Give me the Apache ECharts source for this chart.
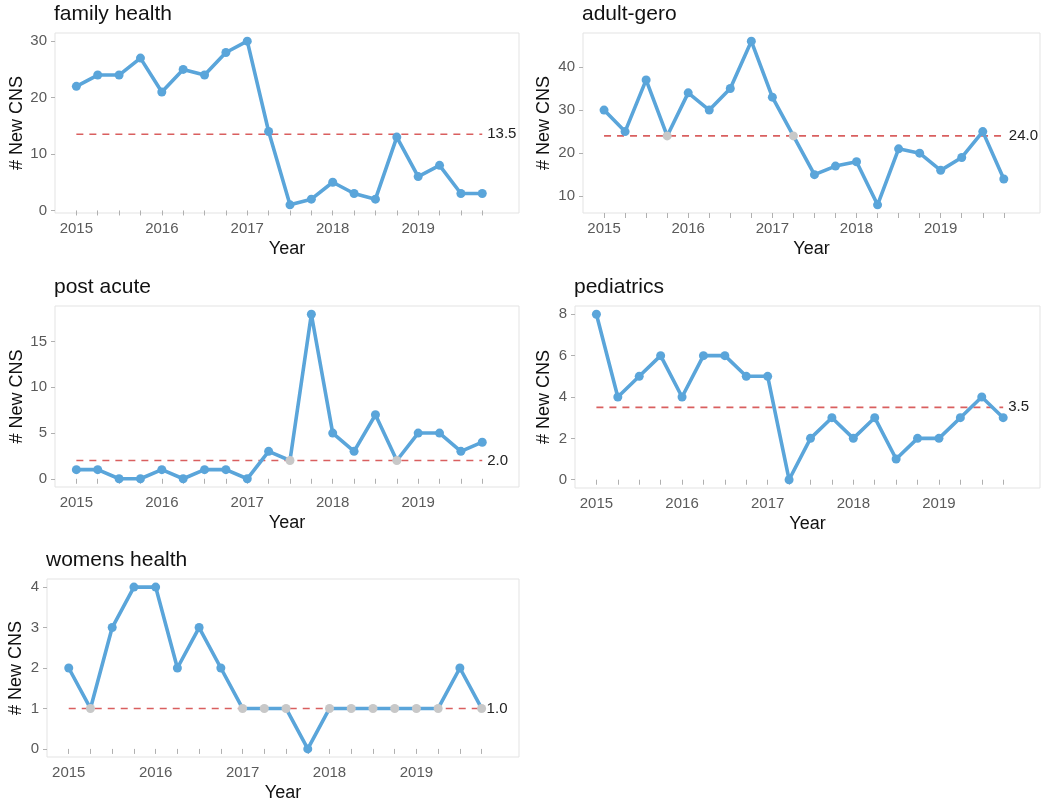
<!DOCTYPE html>
<html><head><meta charset="utf-8">
<script src="https://cdn.jsdelivr.net/npm/echarts@6/dist/echarts.min.js"></script>
<style>html,body{margin:0;padding:0;background:#fff}#c{width:1050px;height:803px}</style>
</head><body><div id="c"></div>
<script>
// ---- data ----
const quarters = [2015.00, 2015.25, 2015.50, 2015.75, 2016.00, 2016.25, 2016.50, 2016.75,
                  2017.00, 2017.25, 2017.50, 2017.75, 2018.00, 2018.25, 2018.50, 2018.75,
                  2019.00, 2019.25, 2019.50, 2019.75];
const yearTicks = [2015, 2016, 2017, 2018, 2019];
const panelTitles = ['family health', 'adult-gero', 'post acute', 'pediatrics', 'womens health'];
const familyHealth = [22, 24, 24, 27, 21, 25, 24, 28, 30, 14, 1, 2, 5, 3, 2, 13, 6, 8, 3, 3];
const adultGero    = [30, 25, 37, 24, 34, 30, 35, 46, 33, 24, 15, 17, 18, 8, 21, 20, 16, 19, 25, 14];
const postAcute    = [1, 1, 0, 0, 1, 0, 1, 1, 0, 3, 2, 18, 5, 3, 7, 2, 5, 5, 3, 4];
const pediatrics   = [8, 4, 5, 6, 4, 6, 6, 5, 5, 0, 2, 3, 2, 3, 1, 2, 2, 3, 4, 3];
const womensHealth = [2, 1, 3, 4, 4, 2, 3, 2, 1, 1, 1, 0, 1, 1, 1, 1, 1, 1, 2, 1];
const medians = [13.5, 24.0, 2.0, 3.5, 1.0];
const yTicks = [[0, 10, 20, 30], [10, 20, 30, 40], [0, 5, 10, 15], [0, 2, 4, 6, 8], [0, 1, 2, 3, 4]];
const allSeries = [familyHealth, adultGero, postAcute, pediatrics, womensHealth];

// ---- layout / style ----
const layout = [
  {left: 55,  top: 33,  width: 464, height: 180, nameGap: 29},
  {left: 583, top: 33,  width: 457, height: 180, nameGap: 30},
  {left: 55,  top: 306, width: 464, height: 181, nameGap: 29},
  {left: 575, top: 306, width: 465, height: 182, nameGap: 22},
  {left: 47,  top: 579, width: 472, height: 181, nameGap: 22}
];
const FONT = 'Liberation Sans, Arial, sans-serif';
const BLUE = '#5AA5DA', GRAY = '#C8C8C8', RED = '#D95F5F';

const grids = [], xAxes = [], yAxes = [], series = [], titles = [];
allSeries.forEach((vals, i) => {
  const L = layout[i];
  const med = medians[i];
  grids.push({left: L.left, top: L.top, width: L.width, height: L.height,
    show: true, borderColor: '#E3E3E3', borderWidth: 1, backgroundColor: '#fff', containLabel: false});
  titles.push({text: panelTitles[i], left: L.left - 1, top: L.top - 29, padding: 0,
    textStyle: {fontSize: 21, fontWeight: 'normal', color: '#111', fontFamily: FONT}});
  const lo = Math.min(...vals), hi = Math.max(...vals), r = hi - lo;
  xAxes.push({type: 'value', gridIndex: i, min: 2014.75, max: 2020.18,
    axisLine: {show: false},
    axisTick: {show: true, customValues: quarters, length: 5, lineStyle: {color: '#B0B0B0'}},
    axisLabel: {customValues: yearTicks, formatter: v => String(v), color: '#5a5a5a', fontSize: 15, margin: 8, fontFamily: FONT},
    splitLine: {show: false},
    name: 'Year', nameLocation: 'middle', nameGap: 27,
    nameTextStyle: {fontSize: 18, color: '#111', fontFamily: FONT}});
  yAxes.push({type: 'value', gridIndex: i, min: lo - 0.05 * r, max: hi + 0.05 * r,
    axisLine: {show: false},
    axisTick: {show: true, customValues: yTicks[i], length: 4, lineStyle: {color: '#B0B0B0'}},
    axisLabel: {customValues: yTicks[i], color: '#5a5a5a', fontSize: 15, margin: 8, fontFamily: FONT},
    splitLine: {show: false},
    name: '# New CNS', nameLocation: 'middle', nameGap: L.nameGap, nameRotate: 90,
    nameTextStyle: {fontSize: 18, color: '#111', fontFamily: FONT}});
  series.push({type: 'line', xAxisIndex: i, yAxisIndex: i, silent: true, z: 1,
    data: [[quarters[0], med], [quarters[quarters.length - 1], med]],
    symbol: 'none', lineStyle: {color: RED, width: 1.6, type: [7, 6]},
    endLabel: {show: true, formatter: med.toFixed(1), distance: 5, fontSize: 15, color: '#222', fontFamily: FONT}});
  series.push({type: 'line', xAxisIndex: i, yAxisIndex: i, silent: true, z: 3,
    data: vals.map((v, k) => ({value: [quarters[k], v], itemStyle: {color: v === med ? GRAY : BLUE}})),
    symbol: 'circle', symbolSize: 9, showAllSymbol: true,
    lineStyle: {color: BLUE, width: 3.6}, itemStyle: {color: BLUE, borderWidth: 0}});
});

const chart = echarts.init(document.getElementById('c'), null, {renderer: 'canvas'});
chart.setOption({animation: false, backgroundColor: '#fff', title: titles,
  grid: grids, xAxis: xAxes, yAxis: yAxes, series: series,
  textStyle: {fontFamily: FONT}});
</script></body></html>
